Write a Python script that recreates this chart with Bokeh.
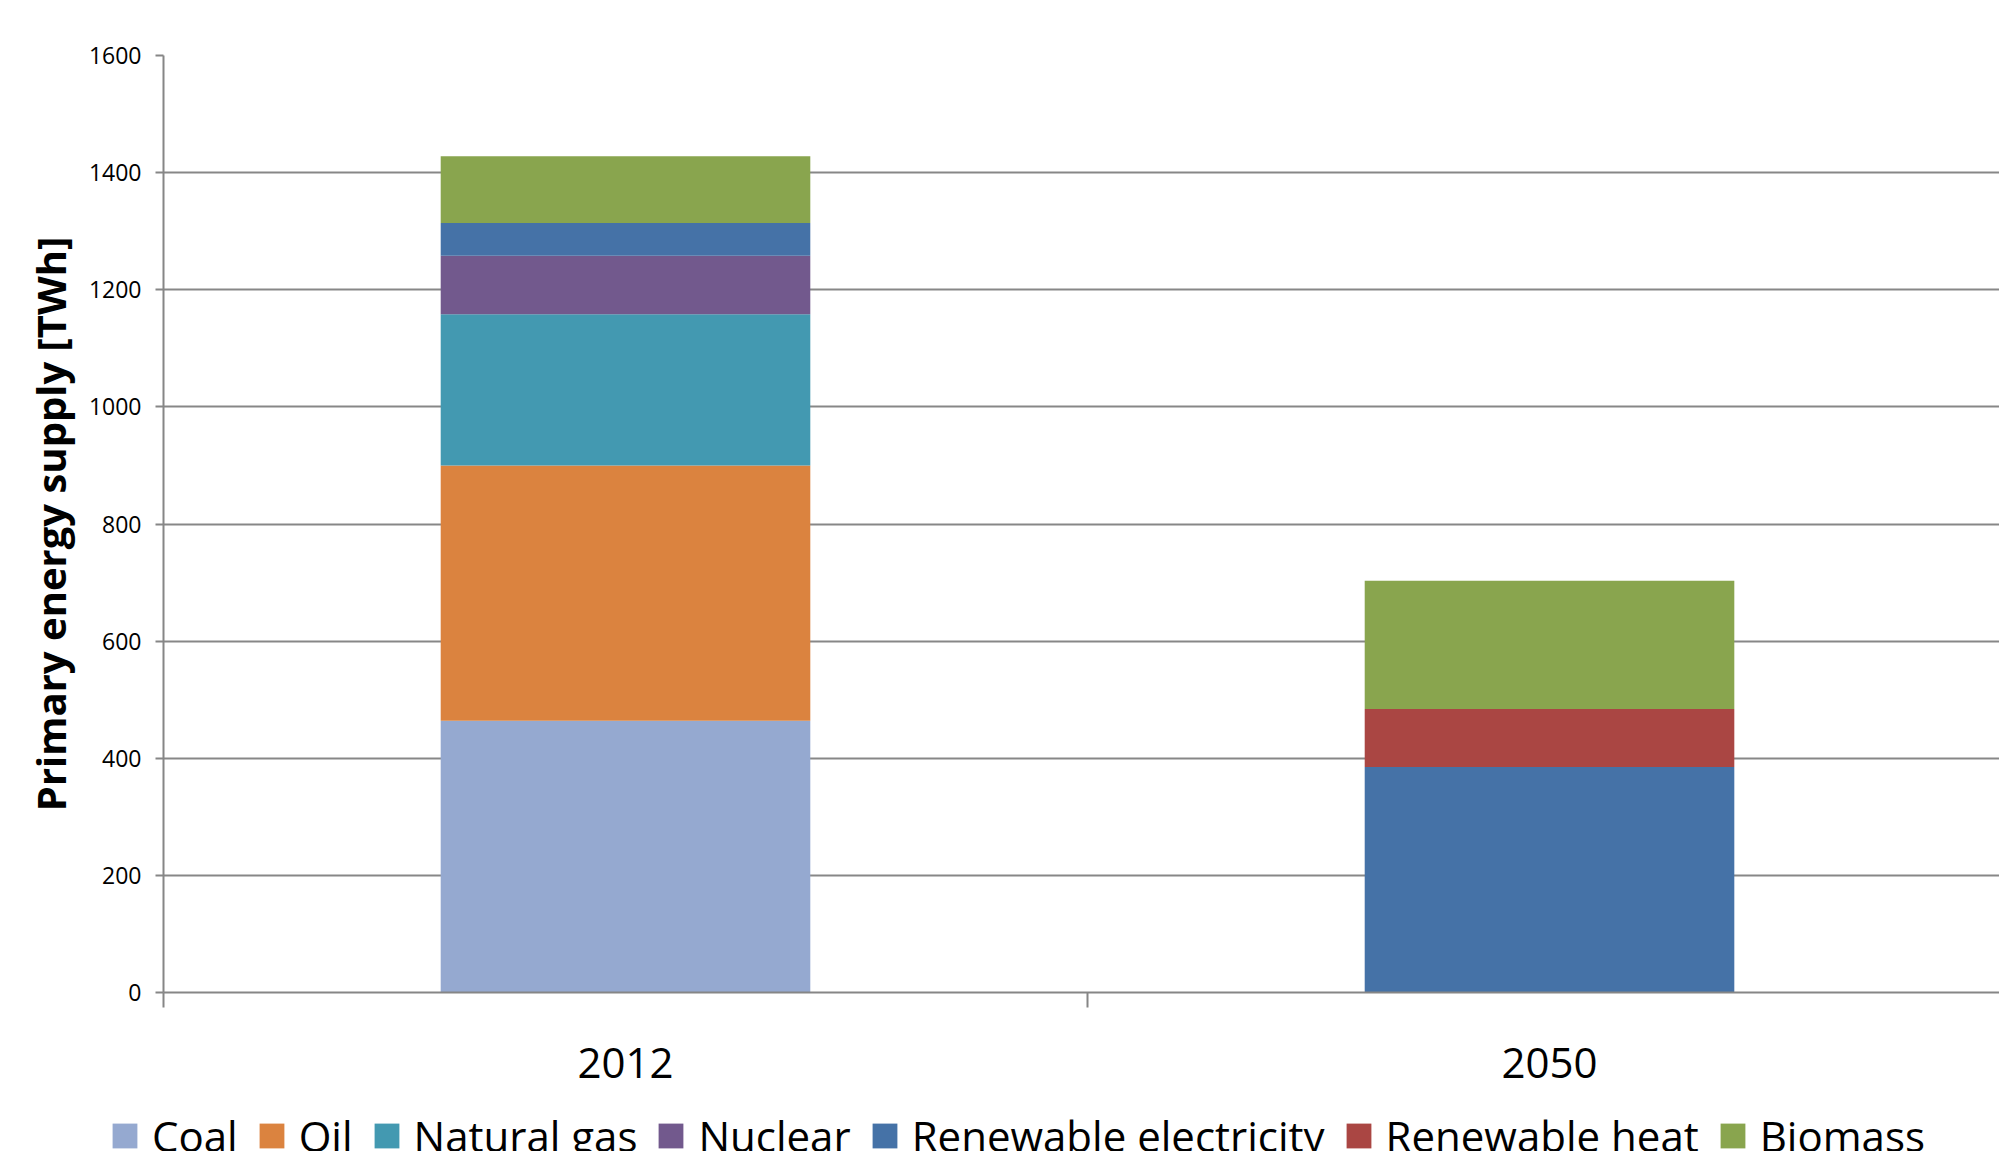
from bokeh.plotting import figure
from bokeh.layouts import column
from bokeh.models import ColumnDataSource, Range1d, FixedTicker, Legend, LegendItem, LinearAxis, Grid
from bokeh.embed import file_html
from bokeh.resources import INLINE

# ---- data ----
years = ["2012", "2050"]
series_names = ["Coal", "Oil", "Natural gas", "Nuclear",
                "Renewable electricity", "Renewable heat", "Biomass"]
coal = [464, 0]
oil = [436, 0]
natural_gas = [258, 0]
nuclear = [100, 0]
renewable_electricity = [56, 385]
renewable_heat = [0, 99]
biomass = [114, 219]
y_ticks = [0, 200, 400, 600, 800, 1000, 1200, 1400, 1600]
colors = ["#95A9D0", "#DB833F", "#4399B1", "#72598D", "#4572A7", "#AA4643", "#89A54E"]

FONT = "Open Sans"
keys = ["coal", "oil", "natural_gas", "nuclear", "ren_elec", "ren_heat", "biomass"]
xpos = [i + 0.5 for i in range(len(years))]
src = ColumnDataSource(dict(x=xpos, coal=coal, oil=oil, natural_gas=natural_gas,
                            nuclear=nuclear, ren_elec=renewable_electricity,
                            ren_heat=renewable_heat, biomass=biomass))

p = figure(width=1999, height=1095, output_backend="svg", toolbar_location=None,
           x_range=Range1d(0, 1.987), y_range=Range1d(0, 1600),
           min_border_left=163, min_border_right=0, min_border_top=55,
           min_border_bottom=103, x_axis_type=None, y_axis_type=None)
p.outline_line_color = None
p.background_fill_color = "white"
p.border_fill_color = "white"

renderers = p.vbar_stack(keys, x="x", width=0.4, source=src,
                         fill_color=colors, line_color=None)

yax = LinearAxis(ticker=FixedTicker(ticks=y_ticks))
yax.axis_label = "Primary energy supply [TWh]"
yax.axis_label_text_font = FONT
yax.axis_label_text_font_style = "bold"
yax.axis_label_text_font_size = "40px"
yax.axis_label_text_color = "black"
yax.axis_label_standoff = 8
yax.major_label_text_font = FONT
yax.major_label_text_font_size = "23px"
yax.major_label_text_color = "black"
yax.major_label_standoff = 14
yax.axis_line_color = "#868686"
yax.axis_line_width = 2
yax.major_tick_line_color = "#868686"
yax.major_tick_line_width = 2
yax.major_tick_out = 8
yax.major_tick_in = 0
yax.minor_tick_line_color = None
p.add_layout(yax, "left")

xax = LinearAxis(ticker=FixedTicker(ticks=xpos, minor_ticks=[0, 1, 2]))
xax.major_label_overrides = {xv: y for xv, y in zip(xpos, years)}
xax.major_label_text_font = FONT
xax.major_label_text_font_size = "42px"
xax.major_label_text_color = "black"
xax.major_label_standoff = 40
xax.major_tick_line_color = None
xax.major_tick_out = 0
xax.major_tick_in = 0
xax.minor_tick_line_color = "#868686"
xax.minor_tick_line_width = 2
xax.minor_tick_out = 15
xax.minor_tick_in = 0
xax.axis_line_color = "#868686"
xax.axis_line_width = 2
p.add_layout(xax, "below")

ygrid = Grid(dimension=1, ticker=FixedTicker(ticks=y_ticks),
             grid_line_color="#878787", grid_line_width=2)
p.add_layout(ygrid)

# ---- legend strip below the chart (legend proxies, not drawn in the strip) ----
lg = figure(width=1999, height=56, output_backend="svg", toolbar_location=None,
            x_range=Range1d(0, 1), y_range=Range1d(0, 1),
            min_border_left=0, min_border_right=0, min_border_top=0, min_border_bottom=0,
            x_axis_type=None, y_axis_type=None)
lg.outline_line_color = None
lg.xgrid.visible = False
lg.ygrid.visible = False

try:
    p.frame_align = False
    lg.frame_align = False
    LEG_X = 109
except AttributeError:
    LEG_X = -54

nan = float("nan")
proxies = [lg.vbar(x="x", top="top", width=0.1,
                   source=ColumnDataSource(dict(x=[nan], top=[nan])),
                   fill_color=c, line_color=None)
           for c in colors]

legend = Legend(items=[LegendItem(label=n, renderers=[r]) for n, r in zip(series_names, proxies)],
                orientation="horizontal", location=(LEG_X, -13))
legend.label_text_font = FONT
legend.label_text_font_size = "42px"
legend.label_text_color = "black"
legend.border_line_color = None
legend.background_fill_alpha = 0
legend.padding = 0
legend.margin = 0
legend.spacing = 18
legend.label_standoff = 12
legend.glyph_width = 31
legend.glyph_height = 31
legend.label_height = 31
lg.add_layout(legend)

layout = column(p, lg, spacing=0)
open("out.html", "w").write(file_html(layout, INLINE))
